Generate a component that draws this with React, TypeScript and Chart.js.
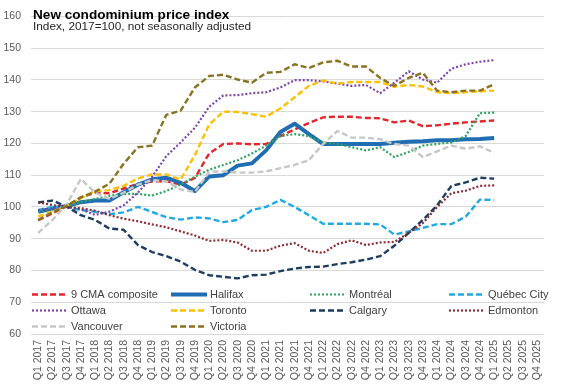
import React, { useEffect, useRef } from "react";
import { Chart, registerables } from "chart.js";
Chart.register(...registerables);

const quarters = [
  "Q1 2017", "Q2 2017", "Q3 2017", "Q4 2017",
  "Q1 2018", "Q2 2018", "Q3 2018", "Q4 2018",
  "Q1 2019", "Q2 2019", "Q3 2019", "Q4 2019",
  "Q1 2020", "Q2 2020", "Q3 2020", "Q4 2020",
  "Q1 2021", "Q2 2021", "Q3 2021", "Q4 2021",
  "Q1 2022", "Q2 2022", "Q3 2022", "Q4 2022",
  "Q1 2023", "Q2 2023", "Q3 2023", "Q4 2023",
  "Q1 2024", "Q2 2024", "Q3 2024", "Q4 2024",
  "Q1 2025", "Q2 2025", "Q3 2025", "Q4 2025",
];

const composite = [95.8, 98, 100.2, 103, 104.5, 104.3, 105.8, 107.3, 108, 108.1, 107, 109.1, 116.8, 119.8, 120, 119.7, 119.8, 122.3, 124.4, 126.4, 128.2, 128.4, 128.4, 128, 127.9, 126.6, 127.2, 125.4, 125.7, 126.2, 126.6, 126.9, 127.2];
const halifax = [98.5, 99.5, 100.3, 101.5, 102, 102, 104.6, 107, 108.7, 109.2, 107.6, 105, 109.6, 110, 113, 113.7, 117.8, 123.6, 126.2, 122.9, 119.8, 119.8, 119.8, 119.8, 119.8, 120.2, 120.5, 120.7, 121, 121, 121.3, 121.4, 121.7];
const montreal = [98.5, 99.3, 100.2, 101.5, 102.5, 103.5, 104.1, 104.1, 103.6, 105, 107.1, 109.5, 111.7, 113.2, 114.7, 116.8, 119.3, 122.3, 122.9, 122.3, 120.3, 119.8, 118.8, 117.8, 118.8, 115.7, 117.3, 119.3, 119.8, 120.3, 122.3, 129.5, 129.7];
const quebec = [99, 100, 100, 99, 98.5, 97.7, 98.3, 100, 98.4, 96.8, 96, 96.7, 96.4, 95.2, 95.9, 99, 100, 102.2, 100, 97.4, 94.7, 94.7, 94.7, 94.7, 94.5, 91.3, 92.3, 93.4, 94.6, 94.6, 96.9, 102.3, 102.2];
const ottawa = [99, 99.5, 100, 99.3, 97.5, 98.5, 100.5, 104.5, 109.5, 116, 120.3, 124.9, 131.5, 135.1, 135.2, 135.8, 136.1, 137.6, 139.9, 139.9, 139.5, 138.8, 138.1, 138.4, 135.8, 139.1, 142.7, 140.1, 139.1, 143.5, 144.9, 145.7, 146.2];
const toronto = [97, 98.5, 100.3, 102.8, 105, 105.3, 106.6, 109, 110.2, 110.2, 108.6, 116.3, 125.9, 130, 129.9, 129.2, 128.4, 131, 134.5, 138.1, 139.8, 138.8, 139.3, 139.3, 139.3, 137.8, 138.4, 137.9, 136.1, 135.8, 136.1, 136.4, 136.6];
const calgary = [101.4, 102, 100.1, 97.4, 95.9, 93.2, 92.8, 88, 85.8, 84.5, 82.8, 80.2, 78.5, 78, 77.5, 78.5, 78.7, 79.8, 80.6, 81.1, 81.2, 82, 82.6, 83.4, 84.5, 87.8, 91.8, 95.9, 100.5, 106.6, 107.7, 109.2, 108.9];
const edmonton = [101.4, 100.6, 100, 99.6, 98.8, 97.4, 96.3, 95.5, 94.5, 93.6, 92.3, 91, 89.3, 89.6, 88.8, 86.2, 86.2, 87.8, 88.6, 86.2, 85.5, 88.3, 89.5, 88, 88.8, 89, 91.8, 94.9, 100, 104.3, 105.1, 106.6, 106.8];
const vancouver = [91.8, 95.9, 100.8, 108.8, 104.5, 102.5, 104.5, 107, 108.5, 108, 105.5, 104.7, 111, 111.2, 110.8, 110.8, 111.2, 112.2, 113.2, 114.7, 119.8, 123.9, 121.8, 121.8, 121.3, 119.8, 119.3, 115.7, 117.5, 119.3, 118.3, 119.1, 117];
const victoria = [95.9, 98.3, 100.3, 103, 104.8, 107.3, 113.6, 118.8, 119.3, 129, 130.3, 137.6, 141.2, 141.6, 140.1, 139.1, 142.2, 142.5, 144.9, 143.7, 145.5, 146, 144.2, 144.2, 140.6, 138.1, 140.6, 142.2, 136.6, 136.1, 136.6, 136.6, 138.6];

const yTicks = [60, 70, 80, 90, 100, 110, 120, 130, 140, 150, 160];

const FONT = "'Liberation Sans', Arial, sans-serif";
const DASH = [6, 3];
const DOT = [2, 2];

const seriesDefs = [
  { label: "9 CMA composite", data: composite, color: "#E3262B", width: 2.4, dash: DASH },
  { label: "Halifax", data: halifax, color: "#1F6DB3", width: 4, dash: [] as number[] },
  { label: "Montréal", data: montreal, color: "#2FA35F", width: 2.2, dash: DOT },
  { label: "Québec City", data: quebec, color: "#22A9E1", width: 2.4, dash: DASH },
  { label: "Ottawa", data: ottawa, color: "#7A45B0", width: 2.2, dash: DOT },
  { label: "Toronto", data: toronto, color: "#FFC000", width: 2.4, dash: DASH },
  { label: "Calgary", data: calgary, color: "#1C3D5E", width: 2.4, dash: DASH },
  { label: "Edmonton", data: edmonton, color: "#8E2A33", width: 2.2, dash: DOT },
  { label: "Vancouver", data: vancouver, color: "#C7C7C7", width: 2.4, dash: DASH },
  { label: "Victoria", data: victoria, color: "#8B7222", width: 2.4, dash: DASH },
];

const legendCols = [32, 171, 310, 449];
const legendRows = [294.5, 310.5, 326.5];

const overlayPlugin = {
  id: "overlay",
  afterDraw(chart: any) {
    const ctx = chart.ctx as CanvasRenderingContext2D;
    ctx.save();
    ctx.fillStyle = "#000000";
    ctx.textBaseline = "alphabetic";
    ctx.textAlign = "left";
    ctx.font = `bold 13.6px ${FONT}`;
    ctx.fillText("New condominium price index", 33, 18.7);
    ctx.font = `11.8px ${FONT}`;
    ctx.fillStyle = "#262626";
    ctx.fillText("Index, 2017=100, not seasonally adjusted", 33, 30);
    ctx.font = `11px ${FONT}`;
    ctx.textBaseline = "middle";
    seriesDefs.forEach((s, i) => {
      const col = i % 4;
      const row = Math.floor(i / 4);
      const x = legendCols[col];
      const y = legendRows[row];
      ctx.beginPath();
      ctx.setLineDash(s.dash);
      ctx.lineWidth = s.width;
      ctx.strokeStyle = s.color;
      ctx.lineCap = "butt";
      ctx.moveTo(x, y);
      ctx.lineTo(x + 36, y);
      ctx.stroke();
      ctx.setLineDash([]);
      ctx.fillStyle = "#404040";
      ctx.fillText(s.label, x + 39, y + 0.5);
    });
    ctx.restore();
  },
};

export default function App() {
  const ref = useRef<HTMLCanvasElement>(null);
  useEffect(() => {
    const datasets = seriesDefs.map((s, i) => ({
      label: s.label,
      data: s.data,
      borderColor: s.color,
      backgroundColor: s.color,
      borderWidth: s.width,
      borderDash: s.dash,
      borderCapStyle: "butt" as const,
      borderJoinStyle: "round" as const,
      pointRadius: 0,
      pointHoverRadius: 0,
      tension: 0,
      fill: false,
      order: -i,
    }));
    const chart = new Chart(ref.current!, {
      type: "line",
      data: { labels: quarters, datasets },
      options: {
        animation: false,
        responsive: true,
        maintainAspectRatio: false,
        layout: { padding: { top: 6.5, right: 33, left: 0, bottom: 0 } },
        plugins: { legend: { display: false }, tooltip: { enabled: false } },
        scales: {
          x: {
            type: "category",
            offset: true,
            grid: { display: false, drawTicks: false },
            border: { display: false },
            ticks: {
              autoSkip: false,
              minRotation: 90,
              maxRotation: 90,
              padding: 6,
              color: "#595959",
              font: { family: FONT, size: 10.5 },
            },
            afterFit: (s: any) => {
              s.height = 51;
            },
          },
          y: {
            min: yTicks[0],
            max: yTicks[yTicks.length - 1],
            afterBuildTicks: (s: any) => {
              s.ticks = yTicks.map((v) => ({ value: v }));
            },
            ticks: {
              padding: 10,
              color: "#595959",
              font: { family: FONT, size: 10.5 },
            },
            grid: { color: "#D9D9D9", lineWidth: 1, drawTicks: false },
            border: { display: false },
            afterFit: (s: any) => {
              s.width = 31;
            },
          },
        },
      },
      plugins: [overlayPlugin],
    });
    return () => chart.destroy();
  }, []);
  return (
    <div
      style={{
        position: "fixed",
        left: 0,
        top: 0,
        width: 577,
        height: 385,
        background: "#ffffff",
      }}
    >
      <canvas ref={ref} />
    </div>
  );
}
